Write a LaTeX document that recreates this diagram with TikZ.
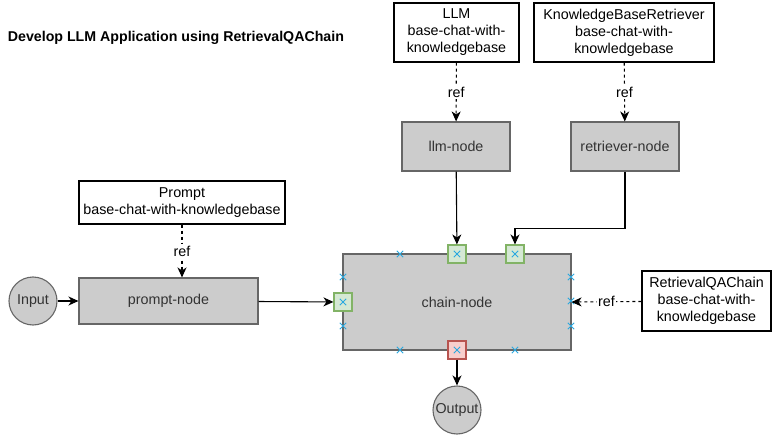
\documentclass[tikz,border=0pt]{standalone}
\usepackage{fontspec}
\setmainfont{Liberation Sans}
\usetikzlibrary{arrows.meta}
\definecolor{boxfill}{HTML}{CCCCCC}
\definecolor{boxline}{HTML}{666666}
\definecolor{txt}{HTML}{333333}
\definecolor{okfill}{HTML}{D5E8D4}
\definecolor{okline}{HTML}{82B366}
\definecolor{badfill}{HTML}{F8CECC}
\definecolor{badline}{HTML}{B85450}
\definecolor{xblue}{HTML}{29A8E0}
\begin{document}
\begin{tikzpicture}[x=1pt,y=-1pt,line width=1.1pt,
    every node/.style={font=\fontsize{14.3}{17}\selectfont},
    refbox/.style={draw,fill=white,align=center,inner sep=0pt},
    graybox/.style={draw=boxline,fill=boxfill,text=txt,inner sep=0pt},
    endpt/.style={graybox,circle,minimum size=48pt},
    okport/.style={draw=okline,fill=okfill,minimum size=18pt,inner sep=0pt},
    badport/.style={draw=badline,fill=badfill,minimum size=18pt,inner sep=0pt},
    arr/.style={-{Stealth[length=10pt,width=9pt,inset=3pt]}},
    refarr/.style={arr,dash pattern=on 3pt off 3pt},
    reflabel/.style={fill=white,inner sep=1.5pt}]
\useasboundingbox (0,0) rectangle (777,436);

\node[anchor=west,font=\fontsize{14.2}{17}\selectfont\bfseries] (title) at (4,38) {Develop LLM Application using RetrievalQAChain};

\node[refbox,minimum width=125,minimum height=59] (llmref) at (456.5,32.5) {LLM\\base-chat-with-\\knowledgebase};
\node[refbox,minimum width=180,minimum height=59] (retref) at (624,32.5) {KnowledgeBaseRetriever\\base-chat-with-\\knowledgebase};
\node[graybox,minimum width=108,minimum height=49] (llm) at (456,146.5) {llm-node};
\node[graybox,minimum width=108,minimum height=49] (ret) at (625,146.5) {retriever-node};

\node[refbox,minimum width=206,minimum height=43] (promptref) at (182,202.5) {Prompt\\base-chat-with-knowledgebase};
\node[graybox,minimum width=179,minimum height=46] (prompt) at (168.5,301) {prompt-node};
\node[endpt] (input) at (33,301) {Input};

\node[graybox,minimum width=228,minimum height=96] (chain) at (457,302) {chain-node};
\node[okport] (ptop) at (457,254) {};
\node[okport] (pret) at (515,254) {};
\node[okport] (pleft) at (343,302) {};
\node[badport] (pout) at (457,350) {};
\node[endpt] (output) at (457,410) {Output};

\node[refbox,minimum width=129,minimum height=60] (chainref) at (706.5,301) {RetrievalQAChain\\base-chat-with-\\knowledgebase};

\foreach \x/\y in {400/254,400/350,515/350,343/277,343/326,571/277,571/301,571/326,457/254,515/254,343/302,457/350}
    \draw[xblue,line width=0.9pt] (\x-3.2,\y-3.2) -- (\x+3.2,\y+3.2) (\x-3.2,\y+3.2) -- (\x+3.2,\y-3.2);

\draw[refarr] (llmref) -- node[reflabel] {ref} (llm);
\draw[refarr] (retref) -- node[reflabel] {ref} (ret);
\draw[refarr] (promptref) -- node[reflabel] {ref} (prompt.north -| promptref);
\draw[refarr] (chainref) -- node[reflabel] {ref} (chain.east);

\draw[arr] (input) -- (prompt);
\draw[arr] (prompt) -- (pleft);
\draw[arr] (llm) -- (ptop);
\draw[arr] (ret.south) -- ++(0,57) -| (pret);
\draw[arr] (pout) -- (output);

\end{tikzpicture}
\end{document}
